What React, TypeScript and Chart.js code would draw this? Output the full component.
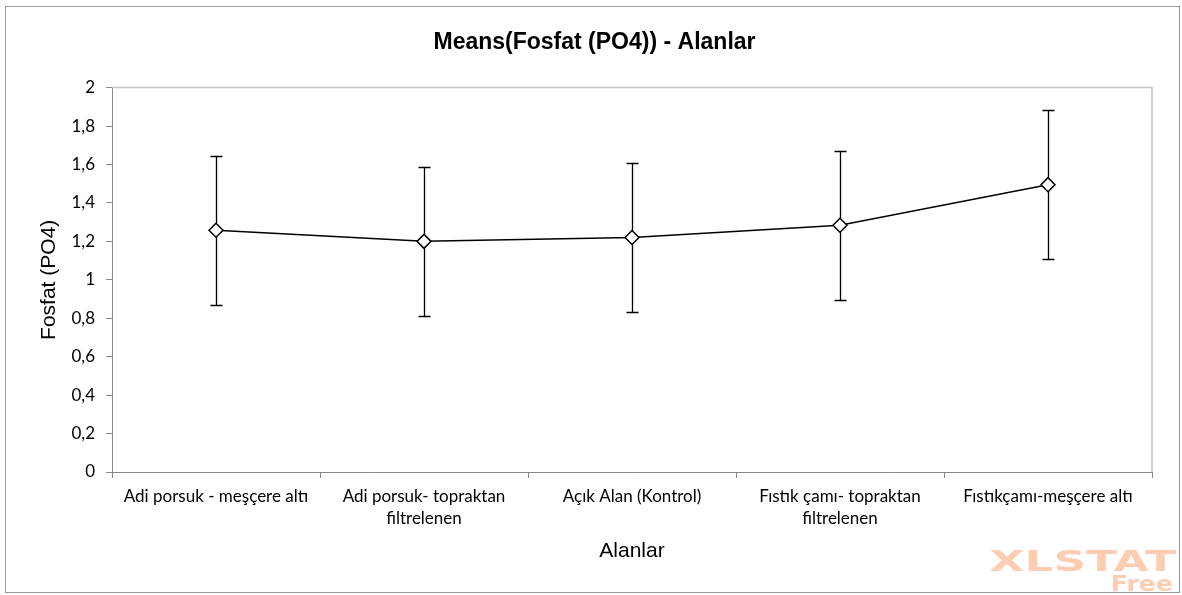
import React, { useEffect, useRef } from "react";
import { Chart, registerables } from "chart.js";

Chart.register(...registerables);

const categories: (string | string[])[] = [
  "Adi porsuk - meşçere altı",
  ["Adi porsuk- topraktan", "filtrelenen"],
  "Açık Alan (Kontrol)",
  ["Fıstık çamı- topraktan", "filtrelenen"],
  "Fıstıkçamı-meşçere altı",
];
const means = [1.258, 1.2, 1.22, 1.284, 1.495];
const lowerBounds = [0.871, 0.814, 0.833, 0.896, 1.109];
const upperBounds = [1.646, 1.585, 1.607, 1.672, 1.881];
const yTickLabels = ["0", "0,2", "0,4", "0,6", "0,8", "1", "1,2", "1,4", "1,6", "1,8", "2"];

const chartTitle = "Means(Fosfat (PO4)) - Alanlar";
const xTitle = "Alanlar";
const yTitle = "Fosfat (PO4)";
const watermark1 = "XLSTAT";
const watermark2 = "Free";

const TICK_FONT = "Lato, 'Noto Sans', sans-serif";
const ARIAL = "'Liberation Sans', Arial, sans-serif";

const decorPlugin = {
  id: "decor",
  beforeDatasetsDraw(chart: any) {
    const ctx = chart.ctx;
    const { top, right, left, bottom } = chart.chartArea;
    ctx.save();
    ctx.strokeStyle = "#c4c4c4";
    ctx.lineWidth = 1.5;
    ctx.beginPath();
    ctx.moveTo(left, top);
    ctx.lineTo(right, top);
    ctx.lineTo(right, bottom);
    ctx.stroke();
    const xs = chart.scales.x;
    const ys = chart.scales.y;
    ctx.strokeStyle = "#000";
    ctx.lineWidth = 1.3;
    for (let i = 0; i < means.length; i++) {
      const x = Math.round(xs.getPixelForValue(i)) + 0.5;
      const y1 = Math.round(ys.getPixelForValue(lowerBounds[i])) + 0.5;
      const y2 = Math.round(ys.getPixelForValue(upperBounds[i])) + 0.5;
      ctx.beginPath();
      ctx.moveTo(x, y1);
      ctx.lineTo(x, y2);
      ctx.moveTo(x - 6, y1);
      ctx.lineTo(x + 6, y1);
      ctx.moveTo(x - 6, y2);
      ctx.lineTo(x + 6, y2);
      ctx.stroke();
    }
    ctx.restore();
  },
  afterDraw(chart: any) {
    const ctx = chart.ctx;
    ctx.save();
    ctx.strokeStyle = "#9a9a9a";
    ctx.lineWidth = 1;
    ctx.strokeRect(5.5, 6.5, 1174, 586);
    ctx.fillStyle = "rgba(252, 200, 168, 0.9)";
    ctx.textBaseline = "alphabetic";
    ctx.textAlign = "right";
    ctx.save();
    ctx.translate(1176, 571);
    ctx.scale(1.62, 1);
    ctx.font = "bold 28px 'DejaVu Sans', sans-serif";
    ctx.fillText(watermark1, 0, 0);
    ctx.restore();
    ctx.save();
    ctx.translate(1173, 591);
    ctx.scale(1.2, 1);
    ctx.font = "bold 21px 'DejaVu Sans', sans-serif";
    ctx.fillText(watermark2, 0, 0);
    ctx.restore();
    ctx.restore();
  },
};

export default function App() {
  const ref = useRef<HTMLCanvasElement | null>(null);
  useEffect(() => {
    if (!ref.current) return;
    const chart = new Chart(ref.current, {
      type: "line",
      data: {
        labels: categories,
        datasets: [
          {
            data: means,
            borderColor: "#000",
            borderWidth: 1.5,
            pointStyle: "rectRot",
            pointRadius: 7,
            pointBackgroundColor: "#fff",
            pointBorderColor: "#000",
            pointBorderWidth: 1.5,
            tension: 0,
            fill: false,
          },
        ],
      },
      options: {
        animation: false,
        responsive: false,
        maintainAspectRatio: false,
        layout: { padding: { left: 37, right: 30, top: 0, bottom: 0 } },
        plugins: {
          legend: { display: false },
          tooltip: { enabled: false },
          title: {
            display: true,
            text: chartTitle,
            color: "#000",
            font: { family: ARIAL, size: 23, weight: "bold", lineHeight: 1.2 },
            padding: { top: 29, bottom: 31 },
          },
        },
        scales: {
          x: {
            offset: true,
            grid: {
              offset: true,
              drawOnChartArea: false,
              drawTicks: true,
              tickLength: 6,
              color: "#888",
            },
            border: { color: "#888", width: 1 },
            ticks: {
              color: "#000",
              font: { family: TICK_FONT, size: 17, lineHeight: 1.3 },
              padding: 7,
              maxRotation: 0,
              autoSkip: false,
            },
            title: {
              display: true,
              text: xTitle,
              color: "#000",
              font: { family: ARIAL, size: 21, lineHeight: 1.2 },
              padding: { top: 0, bottom: 31 },
            },
            afterFit(scale: any) {
              scale.height = 595 - 472;
            },
          },
          y: {
            min: 0,
            max: 2,
            grid: {
              drawOnChartArea: false,
              drawTicks: true,
              tickLength: 6,
              color: "#888",
            },
            border: { color: "#888", width: 1 },
            ticks: {
              stepSize: 0.2,
              color: "#000",
              font: { family: TICK_FONT, size: 17 },
              padding: 11,
              callback: (_v: any, i: number) => yTickLabels[i],
            },
            title: {
              display: true,
              text: yTitle,
              color: "#000",
              font: { family: ARIAL, size: 21, lineHeight: 1.2 },
              padding: { top: 0, bottom: 0 },
            },
            afterFit(scale: any) {
              scale.width = 112 - 37;
            },
          },
        },
      },
      plugins: [decorPlugin],
    });
    return () => chart.destroy();
  }, []);
  return (
    <div style={{ position: "fixed", left: 0, top: 0, width: 1182, height: 595, background: "#fff" }}>
      <canvas ref={ref} width={1182} height={595} style={{ display: "block" }} />
    </div>
  );
}
